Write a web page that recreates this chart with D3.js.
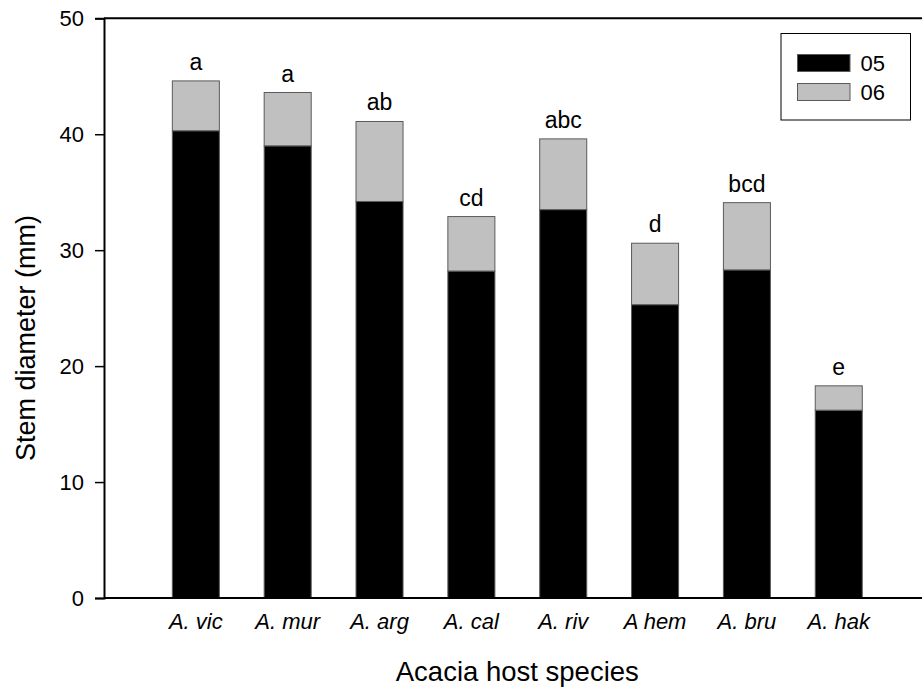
<!DOCTYPE html>
<html>
<head>
<meta charset="utf-8">
<script src="https://cdn.jsdelivr.net/npm/d3@7"></script>
<style>
  html, body { margin: 0; padding: 0; background: #fff; }
  svg { display: block; font-family: Arial, "Liberation Sans", sans-serif; }
</style>
</head>
<body>
<svg id="chart" width="922" height="691"></svg>
<script>
// Stem diameter of plants grown on each Acacia host, two seasons stacked
const species = ["A. vic", "A. mur", "A. arg", "A. cal", "A. riv", "A hem", "A. bru", "A. hak"];
const season05 = [40.3, 39.0, 34.2, 28.2, 33.5, 25.3, 28.3, 16.2];
const season06 = [4.3, 4.6, 6.9, 4.7, 6.1, 5.3, 5.8, 2.1];
const groupLetters = ["a", "a", "ab", "cd", "abc", "d", "bcd", "e"];
const seriesKeys = ["05", "06"];
const seriesFill = ["#000000", "#c0c0c0"];
const yTicks = [0, 10, 20, 30, 40, 50];

const svg = d3.select("#chart");
const plotLeft = 104, plotRight = 930.6, plotTop = 18.3, plotBottom = 598;

// positions 1..8 on a 0..9 axis
const x = d3.scaleLinear().domain([0, 9]).range([plotLeft, plotRight]);
const y = d3.scaleLinear().domain([0, 50]).range([plotBottom, plotTop]);
const barW = 0.512;

const rows = species.map((s, i) => ({ sp: s, i: i + 1, "05": season05[i], "06": season06[i] }));
const stacked = d3.stack().keys(seriesKeys)(rows);

// bars
svg.append("g").selectAll("g").data(stacked).join("g")
  .attr("fill", (d, k) => seriesFill[k])
  .selectAll("rect").data(d => d).join("rect")
    .attr("x", d => x(d.data.i - barW / 2))
    .attr("width", d => x(barW) - x(0))
    .attr("y", d => y(d[1]))
    .attr("height", d => y(d[0]) - y(d[1]))
    .attr("stroke", "#5a5a5a")
    .attr("stroke-width", 1);

// significance letters above each bar
svg.append("g").selectAll("text").data(rows).join("text")
  .attr("x", d => x(d.i))
  .attr("y", d => y(d["05"] + d["06"]) - 11)
  .attr("text-anchor", "middle")
  .attr("font-size", 23)
  .text((d, i) => groupLetters[i]);

// y axis
const yAxis = d3.axisLeft(y).tickValues(yTicks).tickSize(9).tickPadding(11);
const gy = svg.append("g").attr("transform", `translate(${plotLeft},0)`).call(yAxis);
gy.attr("font-family", null).attr("font-size", 22);
gy.select(".domain").attr("stroke-width", 2);
gy.selectAll(".tick line").attr("stroke-width", 1.5);
gy.selectAll(".tick text").attr("fill", "#000");

// x axis line (bottom) and frame top
svg.append("line").attr("x1", plotLeft).attr("x2", plotRight).attr("y1", plotBottom).attr("y2", plotBottom)
  .attr("stroke", "#000").attr("stroke-width", 2);
svg.append("line").attr("x1", plotLeft).attr("x2", plotRight).attr("y1", plotTop).attr("y2", plotTop)
  .attr("stroke", "#000").attr("stroke-width", 2);

// category labels
svg.append("g").selectAll("text").data(rows).join("text")
  .attr("x", d => x(d.i))
  .attr("y", 629)
  .attr("text-anchor", "middle")
  .attr("font-size", 22)
  .attr("font-style", "italic")
  .text(d => d.sp);

// axis titles
svg.append("text")
  .attr("x", (plotLeft + plotRight) / 2).attr("y", 681)
  .attr("text-anchor", "middle").attr("font-size", 27.5)
  .text("Acacia host species");
svg.append("text")
  .attr("transform", "translate(35,338) rotate(-90)")
  .attr("text-anchor", "middle").attr("font-size", 27)
  .text("Stem diameter (mm)");

// legend
const lg = svg.append("g");
lg.append("rect").attr("x", 781).attr("y", 33.5).attr("width", 129.5).attr("height", 86.5)
  .attr("fill", "#fff").attr("stroke", "#000").attr("stroke-width", 1);
seriesKeys.forEach((k, j) => {
  lg.append("rect").attr("x", 797.5).attr("y", 54.5 + j * 29).attr("width", 52.5).attr("height", 17)
    .attr("fill", seriesFill[j]).attr("stroke", "#5a5a5a").attr("stroke-width", 1);
  lg.append("text").attr("x", 860.5).attr("y", 71 + j * 29).attr("font-size", 22).text(k);
});
</script>
</body>
</html>
